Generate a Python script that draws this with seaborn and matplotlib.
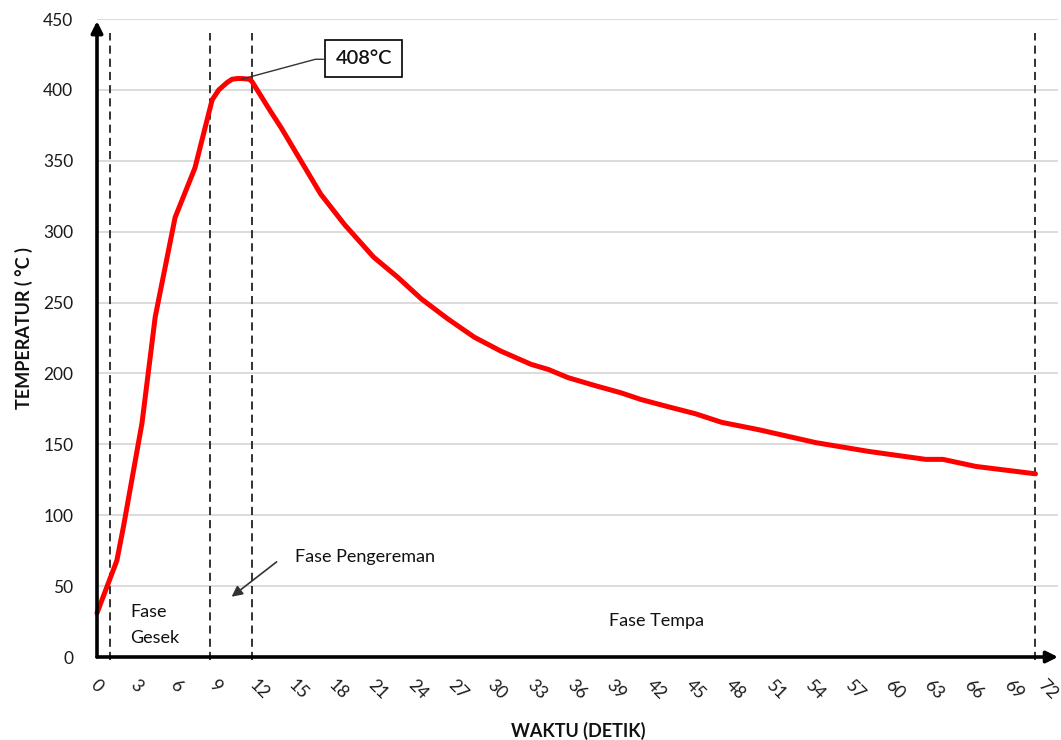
import matplotlib
matplotlib.use("Agg")
import matplotlib.pyplot as plt
import matplotlib.transforms as mtransforms
import seaborn as sns
import numpy as np
import pandas as pd

# ---- data ----
time_s = [0, 1.5, 2.0, 3.4, 4.4, 5.9, 7.4, 8.7, 9.2, 9.8, 10.2, 10.6, 11.0, 11.5, 11.7,
          13.1, 13.9, 15.4, 16.9, 18.7, 20.9, 22.7, 24.5, 26.5, 28.5, 30.5, 32.8,
          34.1, 35.6, 37.6, 39.6, 41.1, 43.2, 45.2, 47.2, 50.0, 51.7, 54.3, 58.3,
          62.6, 63.9, 66.4, 70.9]
temp_c = [31, 68, 92, 165, 240, 310, 345, 393, 400, 405, 407.5, 408, 408, 407.5, 406,
          385, 373.5, 350, 326.5, 305, 282, 268, 252.6, 238.5, 225.6, 215.8, 206.4,
          202.8, 197, 191.5, 186.3, 181.6, 176.4, 171.6, 165.5, 160.3, 156.7, 151.2, 145,
          139.4, 139.4, 134.4, 129.2]
phase_lines = [1.0, 8.5, 11.7, 70.9]
x_ticks = list(range(0, 73, 3))
y_ticks = list(range(0, 451, 50))
peak_label = "408°C"
peak_point = (10.9, 407.5)

df = pd.DataFrame({"t": time_s, "T": temp_c})

sns.set_theme(style="white")
plt.rcParams["font.family"] = ["Lato", "DejaVu Sans"]

fig = plt.figure(figsize=(10.61, 7.40), dpi=100)
ax = fig.add_axes([97/1061, 83/740, 961/1061, 638/740])

# grid
for y in y_ticks[1:]:
    ax.axhline(y, color="#d9d9d9", lw=1.3, zorder=0)

# curve
sns.lineplot(data=df, x="t", y="T", ax=ax, color="#ff0000", lw=3.6, sort=False,
             estimator=None, clip_on=False, zorder=3)
ax.lines[-1].set_solid_joinstyle("round")

# phase dashed lines
ax.vlines(phase_lines, -2, 440, colors="#222222", lw=1.3,
          linestyles=[(0, (4.5, 2.8))], zorder=2, clip_on=False)

ax.set_xlim(0, 72.6)
ax.set_ylim(0, 450)
for s in ax.spines.values():
    s.set_visible(False)

# axis arrows
ax.annotate("", xy=(0, 448.5), xytext=(0, 0), xycoords="data",
            arrowprops=dict(arrowstyle="-|>", lw=2.6, color="black",
                            mutation_scale=17, shrinkA=0, shrinkB=0),
            annotation_clip=False, zorder=5)
ax.annotate("", xy=(72.6, 0), xytext=(0, 0), xycoords="data",
            arrowprops=dict(arrowstyle="-|>", lw=2.6, color="black",
                            mutation_scale=17, shrinkA=0, shrinkB=0),
            annotation_clip=False, zorder=5)

# ticks
ax.set_yticks(y_ticks)
ax.set_yticklabels([str(v) for v in y_ticks])
ax.set_xticks(x_ticks)
ax.set_xticklabels([str(v) for v in x_ticks], rotation=-45, rotation_mode="anchor",
                   ha="left", va="center")
ax.tick_params(axis="x", length=0, pad=18, labelsize=12.5, colors="#1a1a1a")
ax.tick_params(axis="y", length=0, pad=17, labelsize=12.5, colors="#1a1a1a")
xlabels = ax.get_xticklabels()
for i, lab in enumerate(xlabels):
    dx = -4 if i < len(xlabels) - 1 else -9
    lab.set_transform(lab.get_transform() +
                      mtransforms.ScaledTranslation(dx/100, 0, fig.dpi_scale_trans))

# axis labels
ax.set_xlabel("WAKTU (DETIK)", fontsize=13, fontweight="bold", color="#111111", va="center")
ax.xaxis.set_label_coords((578-97)/961, -(731-657)/638)
ax.set_ylabel("TEMPERATUR ( °C )", fontsize=13, fontweight="bold", color="#111111", va="center")
ax.yaxis.set_label_coords((24-97)/961, (657-328)/638)

# peak annotation
ax.plot([peak_point[0], 16.5, 17.1], [peak_point[1], 421.6, 421.6], color="#333333",
        lw=1.0, zorder=4)
ax.text(20.15, 422.2, peak_label, ha="center", va="center", fontsize=14.5,
        fontweight="semibold", color="#111111", zorder=6,
        bbox=dict(boxstyle="square,pad=0.5", fc="white", ec="black", lw=1.2))

# phase texts
ax.text(20.25, 66.7, "Fase Pengereman", ha="center", va="baseline", fontsize=13, color="#111111")
ax.annotate("", xy=(10.17, 42.5), xytext=(13.57, 67.1),
            arrowprops=dict(arrowstyle="-|>", lw=1.2, color="#333333",
                            mutation_scale=16, shrinkA=0, shrinkB=0))
ax.text(2.5, 28.4, "Fase", ha="left", va="baseline", fontsize=13, color="#111111")
ax.text(2.5, 10.1, "Gesek", ha="left", va="baseline", fontsize=13, color="#111111")
ax.text(42.25, 21.8, "Fase Tempa", ha="center", va="baseline", fontsize=13, color="#111111")

fig.savefig("out.png", dpi=100)
